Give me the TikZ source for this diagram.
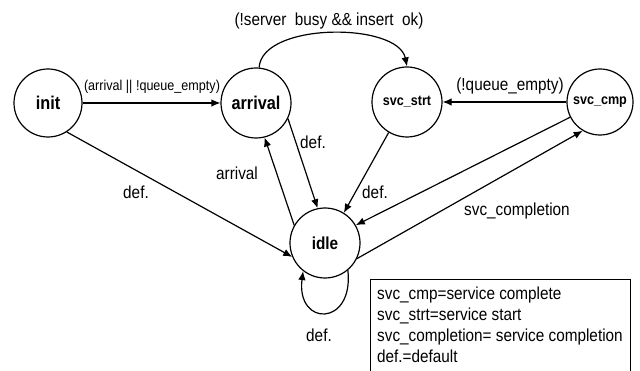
\documentclass[tikz,border=0pt]{standalone}
\usepackage{fontspec}
\setmainfont{Liberation Sans}[FakeStretch=0.88]
\usetikzlibrary{arrows.meta}
\tikzset{
  state/.style={draw, circle, line width=1.2pt, inner sep=0pt, font=\fontsize{18.5}{20}\selectfont\bfseries},
  conn/.style={line width=1.2pt, -{Latex[length=9pt,width=7.5pt]}},
  lbl/.style={inner sep=0pt, font=\fontsize{17.4}{20}\selectfont},
  smalllbl/.style={inner sep=0pt, font=\fontsize{14.3}{16}\selectfont},
}
\begin{document}
\begin{tikzpicture}[x=1pt,y=-1pt]
\useasboundingbox (0,0) rectangle (640,371);
\fill[white] (0,0) rectangle (640,371);
% states
\node[state, minimum size=68pt] (init) at (48,103) {init};
\node[state, minimum size=70pt] (arrival) at (256,103) {arrival};
\node[state, minimum size=70pt, font=\fontsize{14.3}{16}\selectfont\bfseries] (strt) at (407,102) {svc\_strt};
\node[state, minimum size=66pt, font=\fontsize{14.3}{16}\selectfont\bfseries] (cmp) at (600,102) {svc\_cmp};
\node[state, minimum size=70pt, font=\fontsize{17.4}{20}\selectfont\bfseries] (idle) at (325,243) {idle};
% connectors
\draw[conn] (init) -- (arrival);
\draw[conn] (arrival.85) .. controls (262,22) and (398,22) .. (strt.north);
\draw[conn] (cmp) -- (strt);
\draw[conn] (init.-57) -- (idle.203);
\draw[conn] (idle.150) -- (arrival.-76);
\draw[conn] (arrival.-26) -- (idle.102);
\draw[conn] (strt.-121) -- (idle.58);
\draw[conn] (cmp.207) -- (idle.30);
\draw[conn] (idle.-26) -- (cmp.-121);
\draw[conn] (idle.-50) .. controls (354,327) and (296,327) .. (idle.-128);
% labels
\node[smalllbl] (l1) at (152,87) {(arrival || !queue\_empty)};
\node[lbl] (l2) at (329,21) {(!server\ \ busy \&\& insert\ \ ok)};
\node[lbl] (l3) at (510,86) {(!queue\_empty)};
\node[lbl] (l4) at (136,192) {def.};
\node[lbl] (l5) at (237,173) {arrival};
\node[lbl] (l6) at (313,142) {def.};
\node[lbl] (l7) at (375,192) {def.};
\node[lbl] (l8) at (517,211) {svc\_completion};
\node[lbl] (l9) at (319,335) {def.};
% legend
\draw[line width=1pt] (370,375) -- (370,280) -- (630,280) -- (630,375);
\node[lbl, anchor=north west, align=left, font=\fontsize{17.4}{21}\selectfont] (legend) at (377,287)
  {svc\_cmp=service complete\\svc\_strt=service start\\svc\_completion= service completion\\def.=default};
\end{tikzpicture}
\end{document}
